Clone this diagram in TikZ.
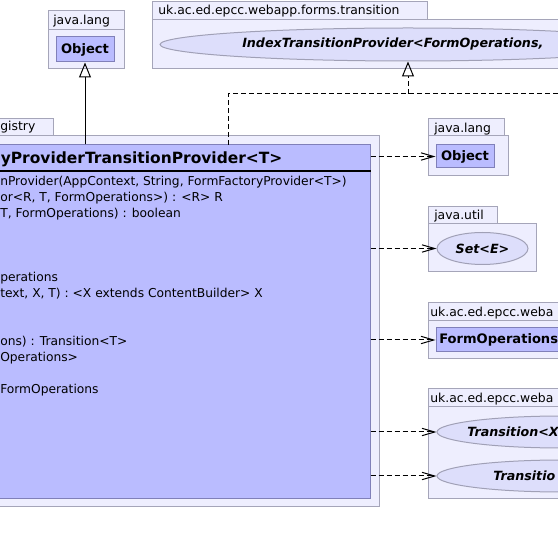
\documentclass[tikz,border=0pt]{standalone}
\usepackage{fontspec}
\setmainfont{DejaVu Sans}
\usetikzlibrary{arrows.meta,shapes.geometric}

\definecolor{pkgfill}{RGB}{238,238,254}
\definecolor{pkgline}{RGB}{165,165,185}
\definecolor{clsfill}{RGB}{186,188,255}
\definecolor{clsline}{RGB}{128,128,185}
\definecolor{ifacefill}{RGB}{221,222,251}
\definecolor{ifaceline}{RGB}{160,160,182}

\begin{document}
\begin{tikzpicture}[x=0.75pt, y=-0.75pt,
    pkg/.style={draw=pkgline, fill=pkgfill, line width=0.75pt},
    cls/.style={rectangle, draw=clsline, fill=clsfill, line width=0.75pt, inner sep=0pt,
        font=\bfseries\fontsize{9.8}{11}\selectfont},
    iface/.style={ellipse, draw=ifaceline, fill=ifacefill, line width=0.75pt, inner sep=0pt,
        font=\bfseries\itshape\fontsize{9.5}{11}\selectfont},
    ifacename/.style={anchor=west, inner sep=0pt, font=\bfseries\itshape\fontsize{9.5}{11}\selectfont},
    pkgname/.style={anchor=base west, inner sep=0pt, font=\fontsize{9.3}{11}\selectfont},
    member/.style={anchor=base west, inner sep=0pt, font=\fontsize{9.2}{11}\selectfont},
    dep/.style={line width=0.75pt, dash pattern=on 4pt off 2pt,
        -{Straight Barb[length=9.5pt, width=5.5pt]}},
    inherit/.style={line width=0.75pt, -{Triangle[open, length=11.25pt, width=9pt]}},
    ]
    \useasboundingbox (0,0) rectangle (558,545);
    \clip (0,0) rectangle (558,545);

    % パッケージ
    \draw[pkg] (-10,119) rectangle (53,136);
    \draw[pkg] (-10,136) rectangle (379,507);
    \draw[pkg] (48,11) rectangle (124,30);
    \draw[pkg] (48,30) rectangle (124,69);
    \draw[pkg] (152,2) rectangle (427,20);
    \draw[pkg] (152,20) rectangle (580,69);
    \draw[pkg] (428,119) rectangle (504,136);
    \draw[pkg] (428,136) rectangle (508,176);
    \draw[pkg] (428,207) rectangle (497,224);
    \draw[pkg] (428,224) rectangle (536,272);
    \draw[pkg] (428,303) rectangle (580,321);
    \draw[pkg] (428,321) rectangle (580,359);
    \draw[pkg] (428,389) rectangle (580,407);
    \draw[pkg] (428,407) rectangle (580,499);

    \node[pkgname] (pRegistry) at (0,131) {gistry};
    \node[pkgname] (pLangTop) at (53,25) {java.lang};
    \node[pkgname] (pTransition) at (158,15) {uk.ac.ed.epcc.webapp.forms.transition};
    \node[pkgname] (pLang) at (434,133) {java.lang};
    \node[pkgname] (pUtil) at (434,220) {java.util};
    \node[pkgname] (pWebappA) at (430,317) {uk.ac.ed.epcc.weba};
    \node[pkgname] (pWebappB) at (430,403) {uk.ac.ed.epcc.weba};

    % クラス
    \node[cls, minimum width=390pt, minimum height=265.5pt] (main) at (110,322) {};
    \node[cls, minimum width=43.5pt, minimum height=18.75pt] (objTop) at (85,49.5) {Object};
    \node[cls, minimum width=43.5pt, minimum height=17.25pt] (obj) at (465,156.5) {Object};
    \node[cls, minimum width=100.5pt, minimum height=18pt] (formOps) at (503,340) {};
    \node[anchor=west, inner sep=0pt, font=\bfseries\fontsize{9.8}{11}\selectfont]
        (formOpsName) at (439,340) {FormOperations};

    % interfaces
    \node[iface, minimum width=372pt, minimum height=24.75pt] (idx) at (408,44.5) {};
    \node[ifacename] (idxName) at (242,44.5) {IndexTransitionProvider<FormOperations,};
    \node[iface, minimum width=68.25pt, minimum height=24pt] (setE) at (482.5,248.5) {Set<E>};
    \node[iface, minimum width=187.5pt, minimum height=24pt] (transA) at (562,432) {};
    \node[iface, minimum width=187.5pt, minimum height=24pt] (transB) at (562,476) {};
    \node[ifacename] (transAName) at (467,432) {Transition<X};
    \node[ifacename] (transBName) at (493,476) {Transitio};

    % class body
    \node[anchor=base west, inner sep=0pt, font=\bfseries\fontsize{11.6}{13}\selectfont]
        (title) at (0.5,164) {yProviderTransitionProvider<T>};
    \coordinate (bar) at (0,171.5);
    \draw[line width=1.5pt] (main.west |- bar) -- (main.east |- bar);
    \node[member] (m1) at (0,186) {nProvider(AppContext, String, FormFactoryProvider<T>)};
    \node[member] (m2) at (0,202) {or<R, T, FormOperations>) : <R> R};
    \node[member] (m3) at (0,218) {T, FormOperations) : boolean};
    \node[member] (m4) at (0,282) {perations};
    \node[member] (m5) at (0,298) {text, X, T) : <X extends ContentBuilder> X};
    \node[member] (m6) at (0,346) {ons) : Transition<T>};
    \node[member] (m7) at (0,362) {Operations>};
    \node[member] (m8) at (0,394) {FormOperations};

    % 線を引く
    \draw[inherit] (main.north -| objTop.south) -- (objTop.south);
    \coordinate (impl) at (228,145);
    \coordinate (join) at (408,94);
    \coordinate (far) at (580,94);
    \draw[line width=0.75pt, dash pattern=on 4pt off 2pt] (impl) |- (join) -- (far);
    \draw[inherit, dash pattern=on 4pt off 2pt] (join) -- (idx.south);

    \draw[dep] (main.east |- obj.west) -- (obj.west);
    \draw[dep] (main.east |- setE.west) -- (setE.west);
    \draw[dep] (main.east |- formOps.west) -- (formOps.west);
    \draw[dep] (main.east |- transA.west) -- (transA.west);
    \draw[dep] (main.east |- transB.west) -- (transB.west);

\end{tikzpicture}
\end{document}
